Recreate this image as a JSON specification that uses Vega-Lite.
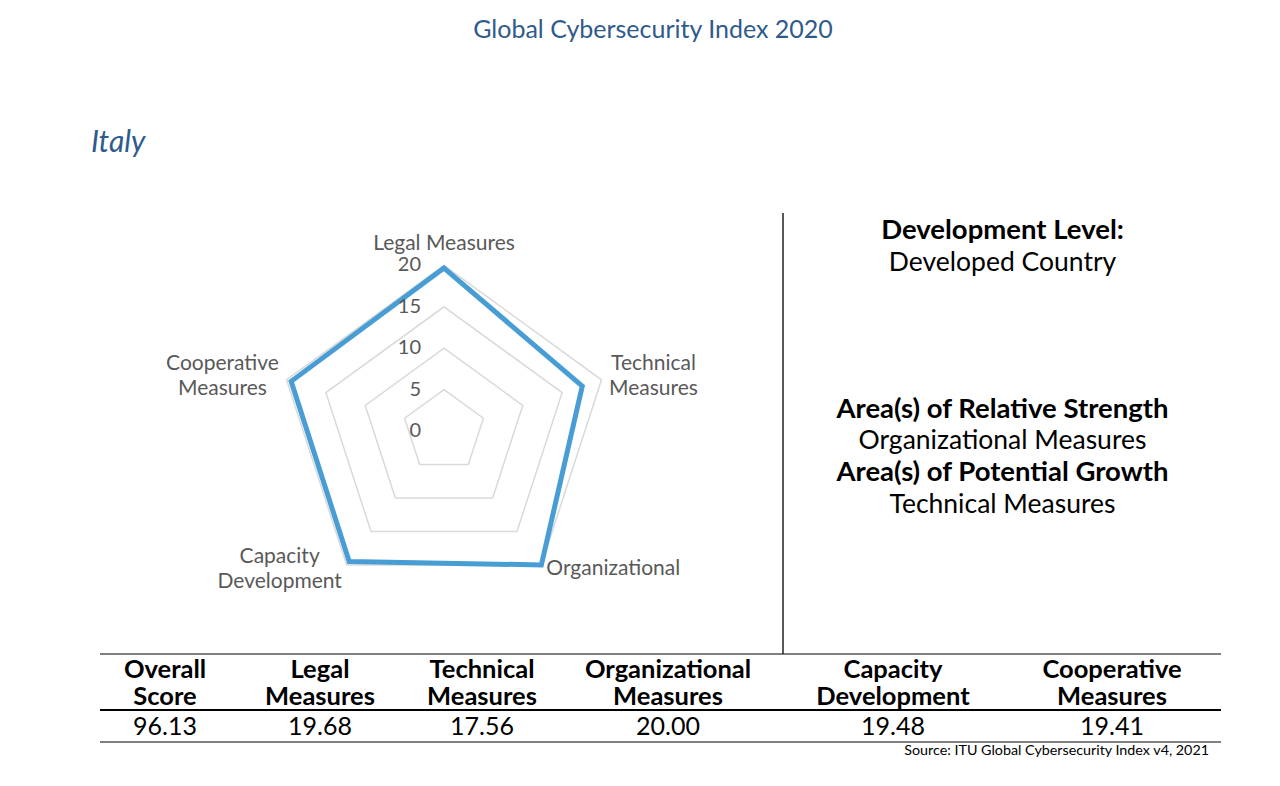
{
  "$schema": "https://vega.github.io/schema/vega-lite/v6.json",
  "width": 1280,
  "height": 786,
  "autosize": {"type": "none"},
  "padding": 0,
  "background": "white",
  "title": {"text": "Global Cybersecurity Index 2020", "anchor": "middle", "offset": -43, "dx": 13, "fontSize": 25, "font": "Lato", "fontWeight": "normal", "color": "#2f5b8c"},
  "config": {"view": {"stroke": null}, "font": "Lato"},
  "datasets": {
    "pillars": [
      {"metric": "Overall Score", "header": "Overall\nScore", "axisLabel": null, "score": 96.13},
      {"metric": "Legal Measures", "header": "Legal\nMeasures", "axisLabel": "Legal Measures", "score": 19.68},
      {"metric": "Technical Measures", "header": "Technical\nMeasures", "axisLabel": "Technical\nMeasures", "score": 17.56},
      {"metric": "Organizational Measures", "header": "Organizational\nMeasures", "axisLabel": "Organizational", "score": 20.00},
      {"metric": "Capacity Development", "header": "Capacity\nDevelopment", "axisLabel": "Capacity\nDevelopment", "score": 19.48},
      {"metric": "Cooperative Measures", "header": "Cooperative\nMeasures", "axisLabel": "Cooperative\nMeasures", "score": 19.41}
    ],
    "profile": [
      {"role": "country", "text": "Italy"},
      {"role": "heading", "text": "Development Level:"},
      {"role": "value", "text": "Developed Country"},
      {"role": "heading", "text": "Area(s) of Relative Strength"},
      {"role": "value", "text": "Organizational Measures"},
      {"role": "heading", "text": "Area(s) of Potential Growth"},
      {"role": "value", "text": "Technical Measures"}
    ]
  },
  "resolve": {"scale": {"x": "independent", "y": "independent"}},
  "layer": [
    {
      "data": {"name": "pillars"},
      "transform": [
        {"filter": "datum.metric !== 'Overall Score'"},
        {"window": [{"op": "row_number", "as": "k"}]},
        {"calculate": "(datum.k - 1) * 2 * PI / 5", "as": "theta"}
      ],
      "layer": [
        {
          "transform": [
            {"calculate": "[5, 10, 15, 20]", "as": "level"},
            {"flatten": ["level"]},
            {"calculate": "datum.level * sin(datum.theta)", "as": "gx"},
            {"calculate": "datum.level * cos(datum.theta)", "as": "gy"}
          ],
          "mark": {"type": "line", "interpolate": "linear-closed", "stroke": "#d9d9d9", "strokeWidth": 1.5},
          "encoding": {
            "x": {"field": "gx", "type": "quantitative", "axis": null, "scale": {"domain": [-20, 20], "range": [278.4, 609.6], "zero": false, "nice": false}},
            "y": {"field": "gy", "type": "quantitative", "axis": null, "scale": {"domain": [-20, 20], "range": [596.6, 265.4], "zero": false, "nice": false}},
            "detail": {"field": "level", "type": "nominal"},
            "order": {"field": "k", "type": "quantitative"}
          }
        },
        {
          "transform": [
            {"calculate": "datum.score * sin(datum.theta)", "as": "sx"},
            {"calculate": "datum.score * cos(datum.theta)", "as": "sy"}
          ],
          "mark": {"type": "line", "interpolate": "linear-closed", "stroke": "#489dd4", "strokeWidth": 5, "strokeJoin": "miter"},
          "encoding": {
            "x": {"field": "sx", "type": "quantitative", "axis": null},
            "y": {"field": "sy", "type": "quantitative", "axis": null},
            "order": {"field": "k", "type": "quantitative"}
          }
        },
        {
          "transform": [
            {"filter": "datum.k === 1"},
            {"calculate": "[0, 5, 10, 15, 20]", "as": "tick"},
            {"flatten": ["tick"]}
          ],
          "mark": {"type": "text", "align": "right", "baseline": "middle", "dx": -23, "fontSize": 20, "fill": "#595959"},
          "encoding": {
            "x": {"datum": 0, "type": "quantitative", "axis": null},
            "y": {"field": "tick", "type": "quantitative", "axis": null},
            "text": {"field": "tick", "type": "quantitative"}
          }
        },
        {
          "transform": [
            {"calculate": "20 * sin(datum.theta)", "as": "lx"},
            {"calculate": "20 * cos(datum.theta)", "as": "ly"}
          ],
          "encoding": {
            "x": {"field": "lx", "type": "quantitative", "axis": null},
            "y": {"field": "ly", "type": "quantitative", "axis": null},
            "text": {"field": "axisLabel", "type": "nominal"}
          },
          "layer": [
            {
              "transform": [{"filter": "datum.k === 1"}],
              "mark": {"type": "text", "align": "center", "baseline": "bottom", "dy": -11, "fontSize": 21, "fill": "#595959", "lineBreak": "\n", "lineHeight": 25}
            },
            {
              "transform": [{"filter": "datum.k === 2"}],
              "mark": {"type": "text", "align": "center", "baseline": "middle", "dx": 52, "dy": -16, "fontSize": 21, "fill": "#595959", "lineBreak": "\n", "lineHeight": 25}
            },
            {
              "transform": [{"filter": "datum.k === 3"}],
              "mark": {"type": "text", "align": "left", "baseline": "middle", "dx": 5, "dy": 4, "fontSize": 21, "fill": "#595959", "lineBreak": "\n", "lineHeight": 25}
            },
            {
              "transform": [{"filter": "datum.k === 4"}],
              "mark": {"type": "text", "align": "center", "baseline": "middle", "dx": -67, "dy": -8, "fontSize": 21, "fill": "#595959", "lineBreak": "\n", "lineHeight": 25}
            },
            {
              "transform": [{"filter": "datum.k === 5"}],
              "mark": {"type": "text", "align": "center", "baseline": "middle", "dx": -64, "dy": -16, "fontSize": 21, "fill": "#595959", "lineBreak": "\n", "lineHeight": 25}
            }
          ]
        }
      ]
    },
    {
      "resolve": {"scale": {"y": "independent"}},
      "layer": [
        {
          "data": {"name": "pillars"},
          "transform": [{"window": [{"op": "row_number", "as": "col"}]}],
          "layer": [
            {
              "transform": [{"aggregate": [{"op": "count", "as": "n"}]}],
              "mark": {"type": "rule", "stroke": "#000000", "strokeWidth": 1},
              "encoding": {
                "x": {"datum": 0.5, "type": "quantitative", "axis": null, "scale": {"domain": [0.5, 1, 2, 3, 4, 4.5, 5, 6, 6.5], "range": [100, 165, 320, 482, 668, 783, 893, 1112, 1221], "zero": false, "nice": false}},
                "x2": {"datum": 6.5},
                "y": {"datum": 0, "type": "quantitative", "axis": null, "scale": {"domain": [-1, 0, 1, 2], "range": [213, 654, 710, 742], "zero": false, "nice": false}}
              }
            },
            {
              "transform": [{"aggregate": [{"op": "count", "as": "n"}]}],
              "mark": {"type": "rule", "stroke": "#000000", "strokeWidth": 2},
              "encoding": {
                "x": {"datum": 0.5, "type": "quantitative", "axis": null},
                "x2": {"datum": 6.5},
                "y": {"datum": 1, "type": "quantitative", "axis": null}
              }
            },
            {
              "transform": [{"aggregate": [{"op": "count", "as": "n"}]}],
              "mark": {"type": "rule", "stroke": "#000000", "strokeWidth": 1},
              "encoding": {
                "x": {"datum": 0.5, "type": "quantitative", "axis": null},
                "x2": {"datum": 6.5},
                "y": {"datum": 2, "type": "quantitative", "axis": null}
              }
            },
            {
              "transform": [{"aggregate": [{"op": "count", "as": "n"}]}],
              "mark": {"type": "rule", "stroke": "#222222", "strokeWidth": 1.5},
              "encoding": {
                "x": {"datum": 4.5, "type": "quantitative", "axis": null},
                "y": {"datum": -1, "type": "quantitative", "axis": null},
                "y2": {"datum": 0}
              }
            },
            {
              "mark": {"type": "text", "align": "center", "baseline": "middle", "fontSize": 25.5, "fontWeight": "bold", "fill": "#000000", "lineBreak": "\n", "lineHeight": 27},
              "encoding": {
                "x": {"field": "col", "type": "quantitative", "axis": null},
                "y": {"datum": 0.286, "type": "quantitative", "axis": null},
                "text": {"field": "header", "type": "nominal"}
              }
            },
            {
              "mark": {"type": "text", "align": "center", "baseline": "middle", "fontSize": 25, "fill": "#000000"},
              "encoding": {
                "x": {"field": "col", "type": "quantitative", "axis": null},
                "y": {"datum": 1.53, "type": "quantitative", "axis": null},
                "text": {"field": "score", "type": "quantitative", "format": ".2f"}
              }
            },
            {
              "data": {"values": [{"source": "Source: ITU Global Cybersecurity Index v4, 2021"}]},
              "mark": {"type": "text", "align": "right", "baseline": "top", "dx": -12, "dy": 2, "fontSize": 14.3, "fill": "#000000"},
              "encoding": {
                "x": {"datum": 6.5, "type": "quantitative", "axis": null},
                "y": {"datum": 2, "type": "quantitative", "axis": null},
                "text": {"field": "source", "type": "nominal"}
              }
            }
          ]
        },
        {
          "data": {"name": "profile"},
          "transform": [{"window": [{"op": "row_number", "as": "line"}]}],
          "encoding": {
            "y": {"field": "line", "type": "quantitative", "axis": null, "scale": {"domain": [1, 2, 3, 4, 5, 6, 7], "range": [143, 231, 263, 410, 441, 473, 505], "zero": false, "nice": false}},
            "text": {"field": "text", "type": "nominal"}
          },
          "layer": [
            {
              "transform": [{"filter": "datum.role === 'country'"}],
              "mark": {"type": "text", "align": "left", "baseline": "middle", "dx": -9, "fontSize": 30, "fontStyle": "italic", "fill": "#2f5b8c"},
              "encoding": {"x": {"datum": 0.5, "type": "quantitative", "axis": null}}
            },
            {
              "transform": [{"filter": "datum.role === 'heading'"}],
              "mark": {"type": "text", "align": "center", "baseline": "middle", "fontSize": 27.5, "fontWeight": "bold", "fill": "#000000"},
              "encoding": {"x": {"datum": 5.5, "type": "quantitative", "axis": null}}
            },
            {
              "transform": [{"filter": "datum.role === 'value'"}],
              "mark": {"type": "text", "align": "center", "baseline": "middle", "fontSize": 26.5, "fill": "#000000"},
              "encoding": {"x": {"datum": 5.5, "type": "quantitative", "axis": null}}
            }
          ]
        }
      ]
    }
  ]
}
